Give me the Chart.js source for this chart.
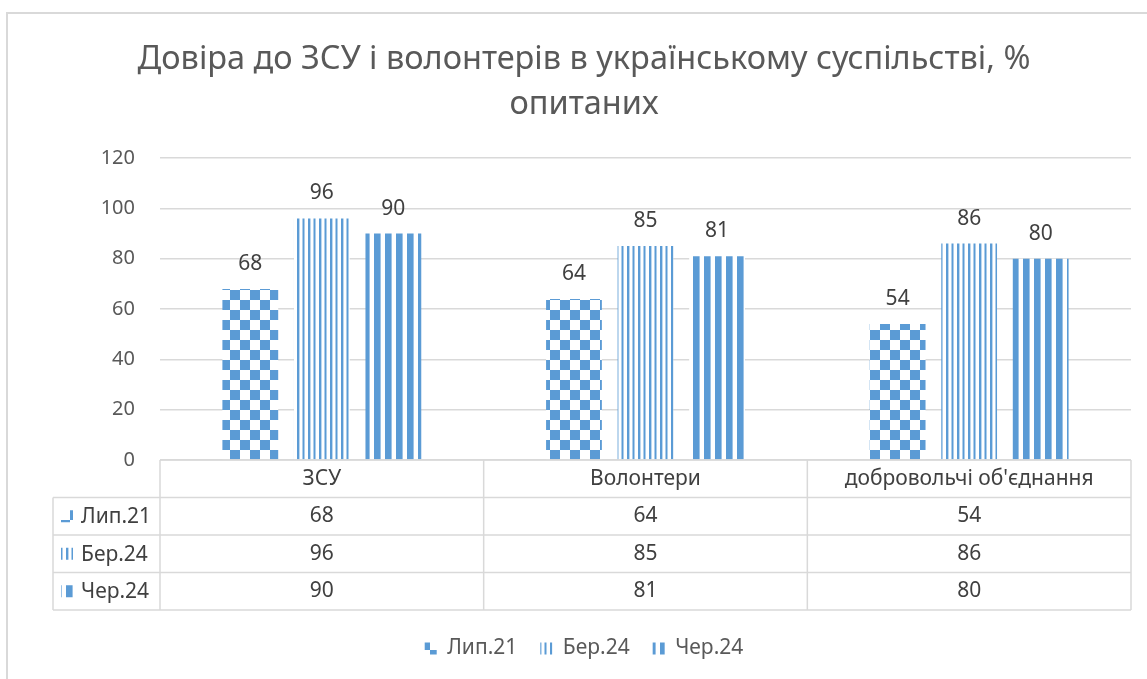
<!DOCTYPE html>
<html>
<head>
<meta charset="utf-8">
<script src="https://cdn.jsdelivr.net/npm/chart.js@4/dist/chart.umd.min.js"></script>
<style>
  html, body { margin: 0; padding: 0; background: #fff; }
  #wrap { width: 1147px; height: 679px; }
</style>
</head>
<body>
<div id="wrap"><canvas id="myChart" width="1147" height="679"></canvas></div>
<script>
const categories = ["ЗСУ", "Волонтери", "добровольчі об'єднання"];
const seriesNames = ["Лип.21", "Бер.24", "Чер.24"];
const lyp21 = [68, 64, 54];
const ber24 = [96, 85, 86];
const cher24 = [90, 81, 80];
const yTicks = [0, 20, 40, 60, 80, 100, 120];

const blue = "#5b9bd5";
const grey = "#d9d9d9";
Chart.defaults.font.family = "'Noto Sans', sans-serif";
Chart.defaults.color = "#595959";

function makePattern(kind) {
    const c = document.createElement("canvas");
    const g = c.getContext("2d");
    if (kind == "checker") {
        c.width = 20; c.height = 20;
        g.fillStyle = "#fff"; g.fillRect(0, 0, 20, 20);
        g.fillStyle = blue;
        g.fillRect(0, 0, 10, 10);
        g.fillRect(10, 10, 10, 10);
    } else if (kind == "thin") {
        c.width = 11; c.height = 4;
        g.fillStyle = "#fff"; g.fillRect(0, 0, 11, 4);
        g.fillStyle = blue;
        g.fillRect(0, 0, 2, 4);
        g.fillRect(5.5, 0, 2, 4);
        g.fillStyle = "#bdd7ee";
        g.fillRect(2, 0, 1, 4);
    } else {
        c.width = 11; c.height = 4;
        g.fillStyle = "#fff"; g.fillRect(0, 0, 11, 4);
        g.fillStyle = blue;
        g.fillRect(0, 0, 6, 4);
        g.fillStyle = "#9dc3e6";
        g.fillRect(6, 0, 1, 4);
    }
    return g.createPattern(c, "repeat");
}

const fills = [makePattern("checker"), makePattern("thin"), makePattern("thick")];
const values = [lyp21, ber24, cher24];

// frame of the picture (only top and left edges are visible)
const framePlugin = {
    id: "frame",
    beforeDraw(chart) {
        const ctx = chart.ctx;
        ctx.save();
        ctx.strokeStyle = grey;
        ctx.lineWidth = 2;
        ctx.beginPath();
        ctx.moveTo(7, chart.height);
        ctx.lineTo(7, 13);
        ctx.lineTo(chart.width, 13);
        ctx.stroke();
        ctx.restore();
    }
};

// value labels over the bars
const valueLabels = {
    id: "valueLabels",
    afterDatasetsDraw(chart) {
        const ctx = chart.ctx;
        ctx.save();
        ctx.font = "21px 'Noto Sans'";
        ctx.fillStyle = "#404040";
        ctx.textAlign = "center";
        ctx.textBaseline = "middle";
        chart.data.datasets.forEach((ds, i) => {
            chart.getDatasetMeta(i).data.forEach((bar, j) => {
                ctx.fillText(ds.data[j], bar.x, bar.y - 25);
            });
        });
        ctx.restore();
    }
};

// data table under the plot
const dataTable = {
    id: "dataTable",
    afterDraw(chart) {
        const ctx = chart.ctx;
        const area = chart.chartArea;
        const xs = chart.scales.x;
        const rowH = 37.5;
        const top = area.bottom;
        const bottom = top + rowH * 4;
        const colW = (area.right - area.left) / categories.length;
        const left = 53;
        ctx.save();
        ctx.strokeStyle = grey;
        ctx.lineWidth = 1.5;
        ctx.beginPath();
        ctx.moveTo(area.left, top);
        ctx.lineTo(area.right, top);
        for (let k = 1; k <= 4; k++) {
            ctx.moveTo(left, top + rowH * k);
            ctx.lineTo(area.right, top + rowH * k);
        }
        ctx.moveTo(left, top + rowH);
        ctx.lineTo(left, bottom);
        for (let c = 0; c <= categories.length; c++) {
            const x = area.left + colW * c;
            ctx.moveTo(x, top);
            ctx.lineTo(x, bottom);
        }
        ctx.stroke();

        ctx.font = "21px 'Noto Sans'";
        ctx.fillStyle = "#404040";
        ctx.textBaseline = "middle";
        ctx.textAlign = "center";
        categories.forEach((cat, c) => {
            const x = xs.getPixelForValue(c);
            ctx.fillText(cat, x, top + rowH / 2);
            values.forEach((arr, r) => {
                ctx.fillText(arr[c], x, top + rowH * (r + 1.5));
            });
        });
        ctx.textAlign = "left";
        seriesNames.forEach((name, r) => {
            const cy = top + rowH * (r + 1.5);
            ctx.fillStyle = fills[r];
            ctx.fillRect(61, cy - 6, 12, 12);
            ctx.fillStyle = "#404040";
            ctx.fillText(name, 81, cy + 1);
        });
        ctx.restore();
    }
};

const data = {
    labels: categories,
    datasets: seriesNames.map((name, i) => ({
        label: name,
        data: values[i],
        backgroundColor: fills[i],
        borderWidth: 0,
        categoryPercentage: 0.663,
        barPercentage: 0.78
    }))
};

const config = {
    type: "bar",
    data: data,
    options: {
        responsive: false,
        animation: false,
        layout: {
            padding: { left: 37, right: 16, top: 0, bottom: 10 }
        },
        scales: {
            x: {
                ticks: { display: false },
                grid: { display: false },
                border: { display: false },
                afterFit: s => { s.height = 155; }
            },
            y: {
                min: 0,
                max: 120,
                afterBuildTicks: s => { s.ticks = yTicks.map(v => ({ value: v })); },
                ticks: { font: { size: 20 }, color: "#595959", padding: 25 },
                grid: { color: grey, lineWidth: 1.5, drawTicks: false },
                border: { display: false },
                afterFit: s => { s.width = 123; }
            }
        },
        plugins: {
            title: {
                display: true,
                text: ["Довіра до ЗСУ і волонтерів в українському суспільстві, %", "опитаних"],
                color: "#595959",
                font: { size: 32.5, weight: "normal", lineHeight: 1.385 },
                padding: { top: 37.5, bottom: 30.5 }
            },
            legend: {
                display: true,
                position: "bottom",
                labels: {
                    boxWidth: 12,
                    boxHeight: 12,
                    padding: 23,
                    color: "#595959",
                    font: { size: 21 }
                }
            },
            tooltip: { enabled: false }
        }
    },
    plugins: [framePlugin, valueLabels, dataTable]
};

const barChart = new Chart(document.getElementById("myChart"), config);
</script>
</body>
</html>
